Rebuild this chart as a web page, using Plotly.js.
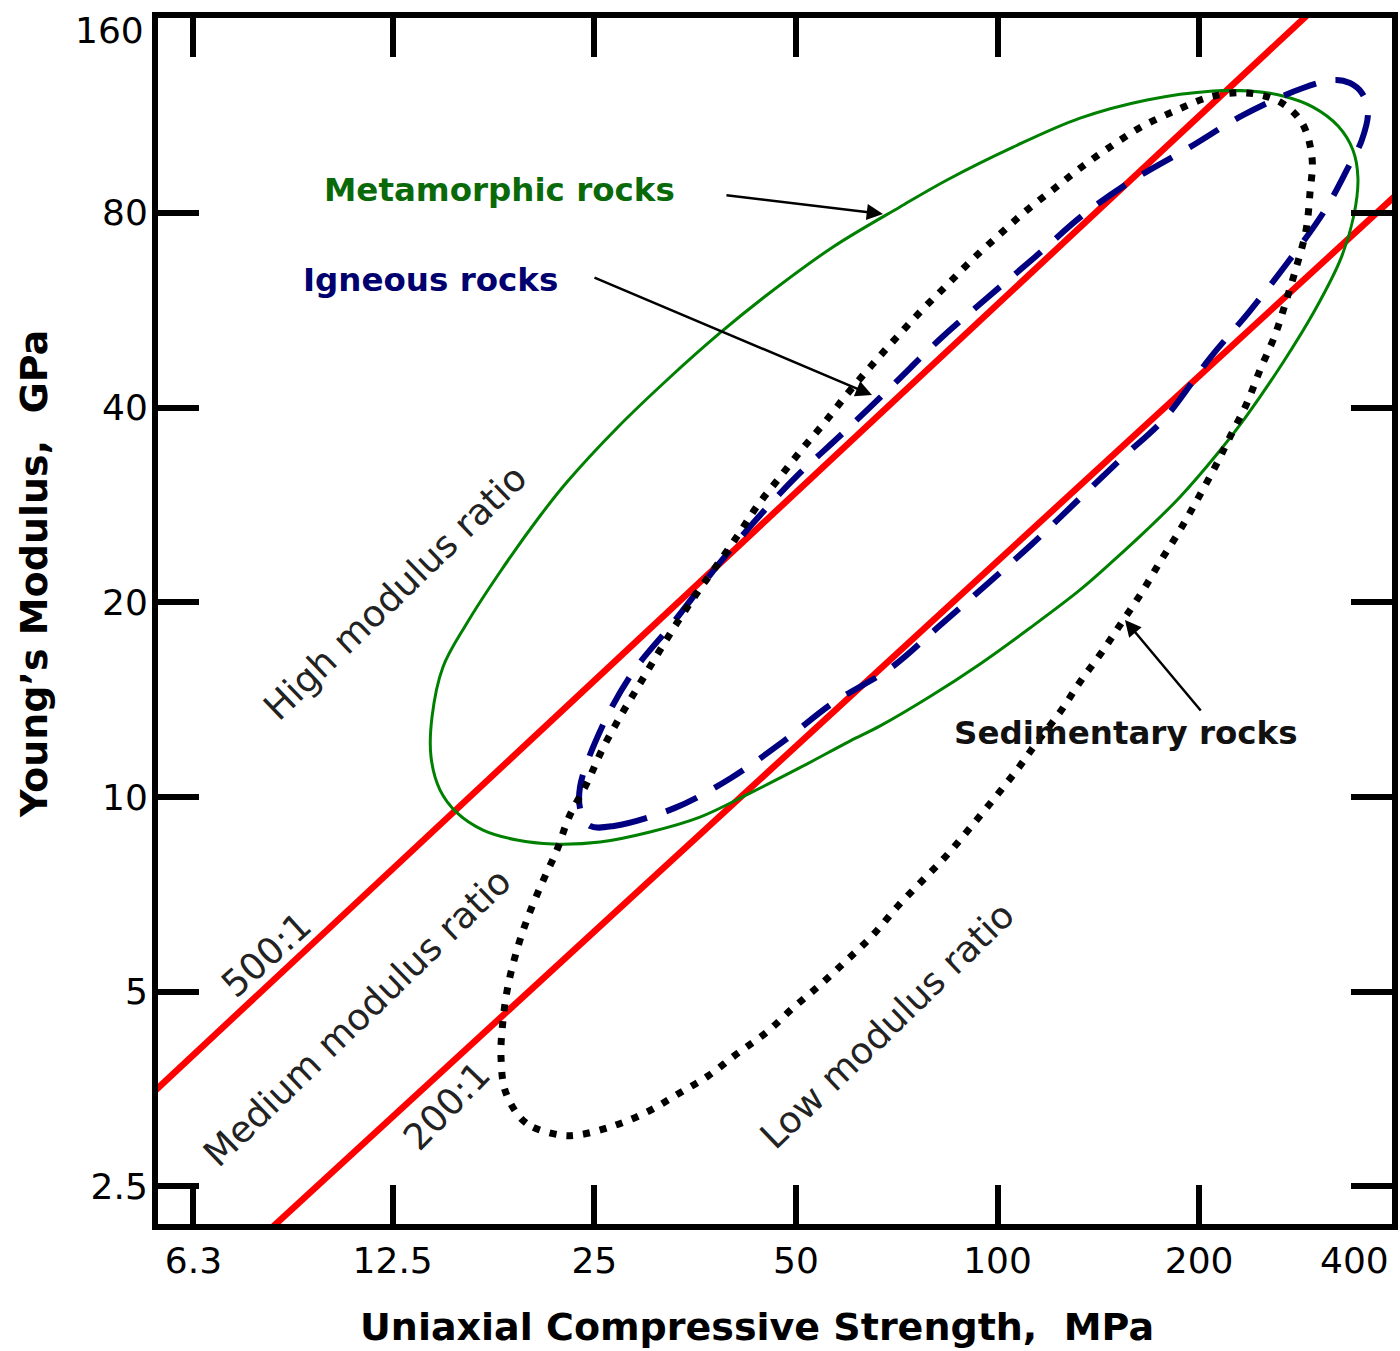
<!DOCTYPE html>
<html>
<head>
<meta charset="utf-8">
<script src="https://cdn.plot.ly/plotly-3.0.1.min.js"></script>
<style>html,body{margin:0;padding:0;background:#fff;}#chart{width:1400px;height:1351px;}</style>
</head>
<body>
<div id="chart"></div>
<script>
// ---- tick labels ----
const xTickVals = [6.3, 12.5, 25, 50, 100, 200];
const xTickText = ['6.3', '12.5', '25', '50', '100', '200'];
const xEdgeLabel = '400';   // sits on the right frame edge
const yTickVals = [2.5, 5, 10, 20, 40, 80];
const yTickText = ['2.5', '5', '10', '20', '40', '80'];
const yEdgeLabel = '160';   // sits on the top frame edge

// ---- axis titles ----
const xTitle = 'Uniaxial Compressive Strength,\u00a0\u00a0MPa';
const yTitle = 'Young\u2019s Modulus,\u00a0\u00a0GPa';

// ---- modulus ratio lines (UCS MPa, E GPa) ----
const ratio500UCS = [5.52, 290.2];
const ratio500E = [3.514, 161.8];
const ratio200UCS = [8.28, 390.9];
const ratio200E = [2.166, 84.65];

// ---- metamorphic rocks envelope ----
const metaUCS = [209.8, 238.2, 266.9, 295.9, 322.5, 339.4, 345.3, 340.6, 325.8, 297.9, 266.0, 234.2, 213.4, 187.3, 167.2, 148.8, 132.8, 111.8, 94.2, 79.3, 66.8, 60.2, 50.7, 42.7, 35.95, 30.28, 25.5, 21.69, 19.16, 17.05, 15.6, 14.71, 14.26, 14.31, 14.86, 16.14, 18.08, 20.74, 22.76, 27.03, 32.1, 38.51, 45.26, 56.8, 71.5, 84.07, 105.5, 132.8, 167.2, 209.8, 238.2];
const metaE = [123.5, 123.5, 121.3, 116.6, 109.0, 100.1, 90.6, 79.4, 68.1, 56.61, 46.71, 38.54, 34.03, 29.1, 25.9, 23.17, 20.9, 18.25, 16.06, 14.3, 12.88, 12.2, 11.1, 10.14, 9.31, 8.83, 8.52, 8.46, 8.58, 8.89, 9.45, 10.25, 11.53, 13.3, 15.89, 18.58, 22.28, 27.19, 30.69, 37.2, 44.13, 52.17, 59.72, 70.85, 81.7, 89.94, 101.1, 112.1, 119.6, 123.5, 123.5];

// ---- igneous rocks envelope ----
const ignUCS = [24.63, 26.75, 32.99, 40.0, 47.99, 56.80, 69.33, 81.22, 95.79, 112.2, 131.0, 152.9, 177.8, 207.6, 237.4, 271.5, 308.4, 333.6, 350.0, 357.4, 350.0, 335.9, 319.2, 285.9, 232.6, 193.8, 159.4, 134.2, 113.8, 96.45, 81.78, 69.81, 58.59, 50.19, 43.43, 37.73, 32.76, 28.56, 25.67, 23.8, 23.88, 24.63];
const ignE = [9.02, 9.02, 9.62, 10.70, 12.21, 13.98, 15.84, 18.25, 21.2, 24.52, 28.58, 33.31, 38.54, 47.72, 56.21, 67.16, 80.83, 93.87, 103.7, 114.6, 122.6, 127.0, 128.4, 124.8, 113.3, 101.1, 89.94, 79.4, 68.37, 59.09, 50.88, 43.35, 36.41, 31.36, 26.71, 22.44, 18.58, 15.61, 12.83, 10.36, 9.48, 9.02];

// ---- sedimentary rocks envelope ----
const sedUCS = [22.22, 19.77, 18.45, 18.14, 18.26, 18.58, 19.16, 19.90, 20.89, 21.99, 22.92, 24.38, 25.67, 27.31, 29.05, 31.02, 33.22, 35.58, 38.12, 40.98, 43.88, 47.34, 51.24, 55.26, 59.81, 64.94, 70.78, 77.13, 84.07, 91.89, 100.9, 110.7, 121.9, 134.2, 148.8, 164.9, 185.4, 207.6, 235.8, 264.2, 284.9, 294.9, 292.8, 288.9, 280.0, 270.6, 259.7, 246.6, 235.8, 222.4, 211.3, 198.6, 187.3, 174.8, 164.4, 153.4, 143.2, 132.8, 124.0, 114.9, 106.9, 98.46, 90.96, 84.07, 77.40, 71.01, 65.17, 59.61, 54.32, 49.5, 45.26, 40.98, 36.96, 33.33, 29.97, 26.66, 23.64, 22.22];
const sedE = [3.002, 3.133, 3.486, 3.963, 4.505, 5.103, 5.80, 6.523, 7.363, 8.282, 9.313, 10.51, 11.82, 13.30, 14.80, 16.58, 18.58, 20.67, 22.84, 25.41, 28.28, 31.24, 34.64, 38.0, 42.14, 46.54, 51.43, 56.61, 61.89, 67.89, 74.21, 80.83, 87.41, 94.54, 101.9, 109.0, 115.4, 120.9, 122.6, 118.7, 110.2, 97.26, 85.86, 75.27, 66.45, 59.09, 51.80, 45.73, 40.66, 36.03, 32.38, 28.78, 25.87, 23.08, 20.75, 18.64, 16.76, 15.06, 13.53, 12.21, 11.01, 9.894, 8.955, 8.135, 7.442, 6.784, 6.119, 5.597, 5.121, 4.719, 4.332, 4.02, 3.704, 3.474, 3.258, 3.100, 3.002, 3.002];

const FONT = 'DejaVu Sans, Verdana, sans-serif';

const traces = [
  {x: ratio500UCS, y: ratio500E, mode: 'lines', line: {color: '#ff0000', width: 6.5}, hoverinfo: 'skip', name: '500:1'},
  {x: ratio200UCS, y: ratio200E, mode: 'lines', line: {color: '#ff0000', width: 6.5}, hoverinfo: 'skip', name: '200:1'},
  {x: metaUCS, y: metaE, mode: 'lines', line: {color: '#008000', width: 3, shape: 'spline', smoothing: 1}, name: 'Metamorphic rocks'},
  {x: ignUCS, y: ignE, mode: 'lines', line: {color: '#000080', width: 6, dash: '34px,20px', shape: 'spline', smoothing: 1}, name: 'Igneous rocks'},
  {x: sedUCS, y: sedE, mode: 'lines', line: {color: '#000000', width: 7, dash: '7px,10px', shape: 'spline', smoothing: 1}, name: 'Sedimentary rocks'}
];

function label(text, x, y, size, color, weight, angle, xanchor) {
  return {text: text, xref: 'paper', yref: 'paper', x: x, y: y, xanchor: xanchor || 'center', yanchor: 'middle',
    showarrow: false, textangle: angle || 0, font: {family: FONT, size: size, color: color, weight: weight || 400}};
}
function arrow(x, y, ax, ay) {
  return {text: '', xref: 'paper', yref: 'paper', x: x, y: y, ax: ax, ay: ay, axref: 'pixel', ayref: 'pixel',
    showarrow: true, arrowhead: 2, arrowsize: 1.3, arrowwidth: 2.5, arrowcolor: '#000'};
}

const annotations = [
  label(xTitle, 0.4858, -0.0854, 38, '#000000', 700),
  label(yTitle, -0.1005, 0.539, 38, '#000000', 700, -90),
  label('Metamorphic rocks', 0.2771, 0.8574, 32.5, '#0a6a0a', 700),
  label('Igneous rocks', 0.2212, 0.7828, 32.5, '#00006e', 700),
  label('Sedimentary rocks', 0.7844, 0.4071, 32.5, '#111111', 700),
  label('High modulus ratio', 0.1921, 0.5240, 36.5, '#222222', 400, -44),
  label('Medium modulus ratio', 0.1613, 0.1716, 36.5, '#222222', 400, -44),
  label('Low modulus ratio', 0.5908, 0.1650, 36.5, '#222222', 400, -44),
  label('500:1', 0.0883, 0.2231, 36.5, '#222222', 400, -42),
  label('200:1', 0.2334, 0.0978, 36.5, '#222222', 400, -46),
  label(xEdgeLabel, 0.970, -0.0299, 36, '#000000', 400),
  label(yEdgeLabel, -0.0097, 0.9900, 36, '#000000', 400, 0, 'right'),
  arrow(0.5875, 0.8375, -158, -19),
  arrow(0.5786, 0.6874, -279, -118),
  arrow(0.7836, 0.5008, 77, 92)
];

const axisCommon = {
  type: 'log', ticks: 'inside', tickwidth: 6, tickcolor: '#000',
  showline: true, linewidth: 6, linecolor: '#000', mirror: 'allticks',
  showgrid: false, zeroline: false, tickmode: 'array',
  tickfont: {family: FONT, size: 36, color: '#000'}
};

const layout = {
  width: 1400, height: 1351,
  margin: {l: 158, r: 8, t: 18, b: 127},
  paper_bgcolor: '#ffffff', plot_bgcolor: '#ffffff',
  showlegend: false,
  font: {family: FONT, color: '#000'},
  xaxis: Object.assign({}, axisCommon, {
    range: [0.74645, 2.58907], tickvals: xTickVals, ticktext: xTickText, ticklen: 39,
    ticklabelstandoff: 0
  }),
  yaxis: Object.assign({}, axisCommon, {
    range: [0.33983, 2.20439], tickvals: yTickVals, ticktext: yTickText, ticklen: 41,
    ticklabelstandoff: -3
  }),
  annotations: annotations
};

Plotly.newPlot('chart', traces, layout, {staticPlot: true, displayModeBar: false});
</script>
</body>
</html>
